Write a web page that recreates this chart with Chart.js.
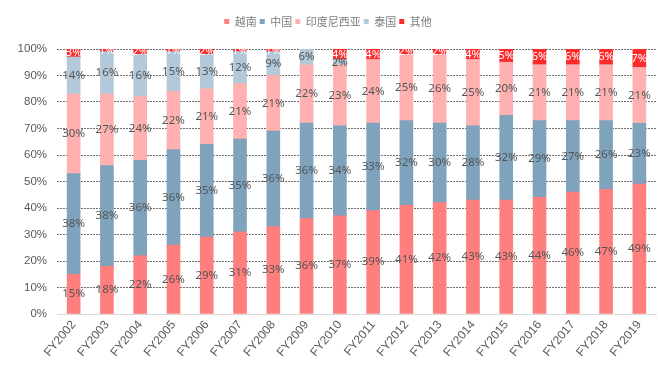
<!DOCTYPE html>
<html>
<head>
<meta charset="utf-8">
<script src="https://cdn.jsdelivr.net/npm/chart.js@4"></script>
<style>
  html, body { margin: 0; padding: 0; background: #fff; }
  #wrap { width: 658px; height: 381px; }
</style>
</head>
<body>
<div id="wrap"><canvas id="js--chart--1"></canvas></div>
<script>
const labels = [
    "FY2002", "FY2003", "FY2004", "FY2005", "FY2006", "FY2007",
    "FY2008", "FY2009", "FY2010", "FY2011", "FY2012", "FY2013",
    "FY2014", "FY2015", "FY2016", "FY2017", "FY2018", "FY2019"
];

const vietnam   = [15, 18, 22, 26, 29, 31, 33, 36, 37, 39, 41, 42, 43, 43, 44, 46, 47, 49];
const china     = [38, 38, 36, 36, 35, 35, 36, 36, 34, 33, 32, 30, 28, 32, 29, 27, 26, 23];
const indonesia = [30, 27, 24, 22, 21, 21, 21, 22, 23, 24, 25, 26, 25, 20, 21, 21, 21, 21];
const thailand  = [14, 16, 16, 15, 13, 12, 9, 6, 2, 0, 0, 0, 0, 0, 0, 0, 0, 0];
const others    = [3, 1, 2, 1, 2, 1, 1, 0, 4, 4, 2, 2, 4, 5, 6, 6, 6, 7];

const yTicks = [0, 10, 20, 30, 40, 50, 60, 70, 80, 90, 100];

const cjk = "'Noto Sans CJK SC', 'Noto Sans', sans-serif";
const num = "'Liberation Sans', Arial, sans-serif";

// percentage text in the middle of each segment
const segmentLabels = {
    id: "segmentLabels",
    afterDatasetsDraw(chart) {
        const ctx = chart.ctx;
        ctx.save();
        ctx.font = "11.5px 'Noto Sans', sans-serif";
        ctx.textAlign = "center";
        ctx.textBaseline = "middle";
        chart.data.datasets.forEach((ds, i) => {
            const meta = chart.getDatasetMeta(i);
            meta.data.forEach((bar, j) => {
                const v = ds.data[j];
                if (!v) return;
                const y = (bar.y + bar.base) / 2;
                ctx.fillStyle = i === 4 ? "#ffffff" : "#555555";
                ctx.fillText(v + "%", bar.x, y);
            });
        });
        ctx.restore();
    }
};

// fixed room for the legend so the plot starts where the original does
const legendSpace = {
    id: "legendSpace",
    beforeInit(chart) {
        const fit = chart.legend.fit;
        chart.legend.fit = function () {
            fit.bind(chart.legend)();
            this.height = 36;
        };
    }
};

const data = {
    labels: labels,
    datasets: [
        { label: "越南", data: vietnam, backgroundColor: "#FF7F7F" },
        { label: "中国", data: china, backgroundColor: "#7FA3BC" },
        { label: "印度尼西亚", data: indonesia, backgroundColor: "#FFB1B1" },
        { label: "泰国", data: thailand, backgroundColor: "#B3C9D9" },
        { label: "其他", data: others, backgroundColor: "#FF2B2B" }
    ]
};

const config = {
    type: "bar",
    data: data,
    options: {
        responsive: true,
        maintainAspectRatio: false,
        animation: false,
        layout: { padding: { left: 0, right: 2, top: 13, bottom: 0 } },
        datasets: { bar: { barThickness: 13 } },
        plugins: {
            legend: {
                position: "top",
                labels: {
                    boxWidth: 5,
                    boxHeight: 5,
                    padding: 3,
                    color: "#7F7F7F",
                    font: { family: cjk, size: 11 }
                }
            },
            tooltip: { enabled: false }
        },
        scales: {
            x: {
                stacked: true,
                afterFit(axis) { axis.height = 67; },
                grid: { display: false, drawTicks: false },
                border: { color: "#D9D9D9", width: 1 },
                ticks: {
                    color: "#595959",
                    font: { family: num, size: 12 },
                    maxRotation: 50,
                    minRotation: 50,
                    padding: 4
                }
            },
            y: {
                stacked: true,
                min: 0,
                max: 100,
                afterFit(axis) { axis.width = 57; },
                afterBuildTicks(axis) {
                    axis.ticks = yTicks.map(v => ({ value: v }));
                },
                grid: {
                    color: c => c.tick && c.tick.value === 0 ? "rgba(0,0,0,0)" : "#6F6F6F",
                    drawTicks: false
                },
                border: { display: false, dash: [2, 1] },
                ticks: {
                    color: "#595959",
                    font: { family: num, size: 11.5 },
                    padding: 10,
                    callback: v => v + "%"
                }
            }
        }
    },
    plugins: [segmentLabels, legendSpace]
};

new Chart(document.getElementById("js--chart--1"), config);
</script>
</body>
</html>
